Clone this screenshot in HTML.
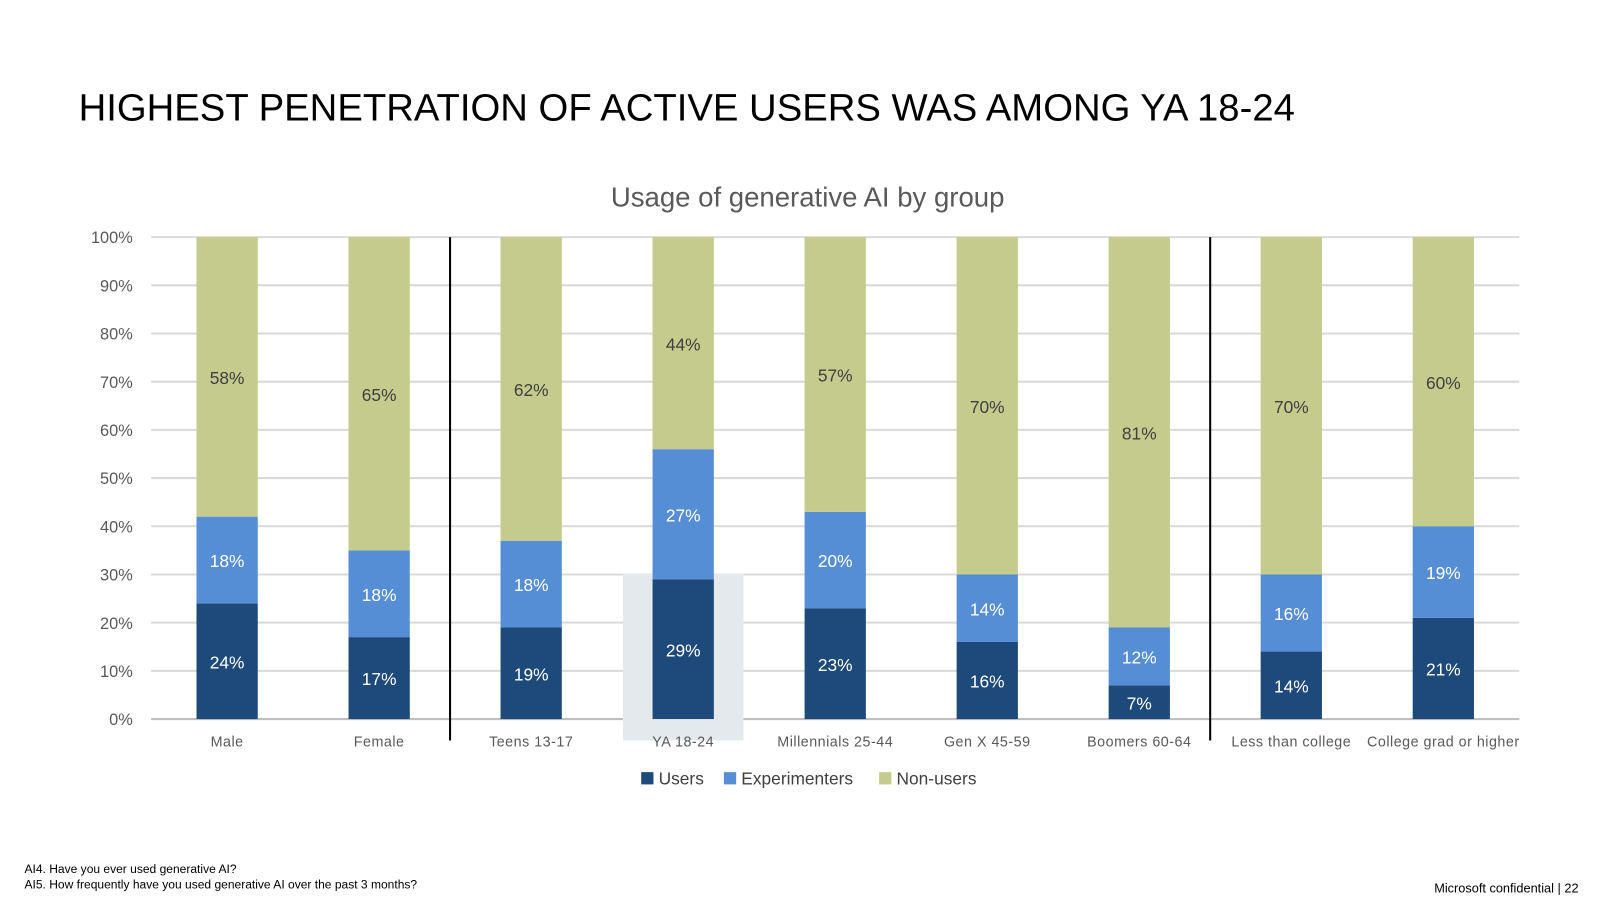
<!DOCTYPE html>
<html><head><meta charset="utf-8"><style>
body{margin:0;background:#fff;font-family:"Liberation Sans",sans-serif;}
#wrap{position:relative;width:1600px;height:900px;overflow:hidden;}
</style></head><body>
<div id="wrap">
<svg id="chart" width="1600" height="900" viewBox="0 0 1567 881">
<text x="77" y="118" font-size="37.5" fill="#000">HIGHEST PENETRATION OF ACTIVE USERS WAS AMONG YA 18-24</text>
<text x="791" y="202" font-size="27" fill="#595959" text-anchor="middle">Usage of generative AI by group</text>
<g id="grid"></g><g id="bars"></g>
<g font-size="17" fill="#404040">
<rect x="628" y="756" width="12" height="12" fill="#1e4a7b"/>
<text x="645" y="768">Users</text>
<rect x="709" y="756" width="12" height="12" fill="#558ed5"/>
<text x="726" y="768">Experimenters</text>
<rect x="861" y="756" width="12" height="12" fill="#c4cb8d"/>
<text x="878" y="768">Non-users</text>
</g>
<text x="24" y="855" font-size="11.8" fill="#000">AI4. Have you ever used generative AI?</text>
<text x="24" y="870" font-size="11.8" fill="#000">AI5. How frequently have you used generative AI over the past 3 months?</text>
<text x="1546" y="874" font-size="12.5" fill="#000" text-anchor="end">Microsoft confidential | 22</text>
</svg>
</div>
<script>
const categories=["Male","Female","Teens 13-17","YA 18-24","Millennials 25-44","Gen X 45-59","Boomers 60-64","Less than college","College grad or higher"];
const users=[24,17,19,29,23,16,7,14,21];
const experimenters=[18,18,18,27,20,14,12,16,19];
const nonUsers=[58,65,62,44,57,70,81,70,60];
const yTicks=[0,10,20,30,40,50,60,70,80,90,100];
const NS="http://www.w3.org/2000/svg";
const x0=148,x1=1488,y0=704,y1=232;
const step=(x1-x0)/categories.length,bw=60;
const y=v=>y0-(v/100)*(y0-y1);
const cx=i=>x0+step*(i+0.5);
function mk(t,a,p){const e=document.createElementNS(NS,t);for(const k in a)e.setAttribute(k,a[k]);p.appendChild(e);return e;}
const grid=document.getElementById('grid'),bars=document.getElementById('bars');
yTicks.forEach(v=>{
 const l=mk('line',{x1:x0,x2:x1,y1:y(v),y2:y(v),stroke:v===0?'#bfbfbf':'#d9d9d9','stroke-width':2},grid);
 
 
 const t=mk('text',{x:130,y:y(v)+6,'font-size':16,fill:'#595959','text-anchor':'end'},grid);
 t.textContent=v+'%';
 
 
});
const hl=mk('rect',{x:cx(3)-59,y:y(30)-1,width:118,height:725-y(30)+1,fill:'#e4e9ee'},grid);


[2,7].forEach(k=>{const s=mk('line',{x1:x0+step*k-5,x2:x0+step*k-5,y1:y1,y2:725,stroke:'#000','stroke-width':2},grid);
 
 });
const series=[[users,'#1e4a7b','#fff','users'],[experimenters,'#558ed5','#fff','experimenters'],[nonUsers,'#c4cb8d','#404040','non-users']];
categories.forEach((c,i)=>{
 let base=0;
 series.forEach(([arr,col,tc,nm],si)=>{
  const v=arr[i];const top=si===2?100:base+v;
  const r=mk('rect',{x:cx(i)-bw/2,y:y(top),width:bw,height:y(base)-y(top),fill:col},bars);
  
  
  const t=mk('text',{x:cx(i),y:(y(base)+y(top))/2+7,'font-size':17,fill:tc,'text-anchor':'middle'},bars);
  t.textContent=v+'%';
  
  
  base=top;
 });
 const t=mk('text',{x:cx(i),y:731,'font-size':14,fill:'#595959','text-anchor':'middle','letter-spacing':'0.5'},bars);
 t.textContent=c;
 
 
});
</script>
</body></html>
